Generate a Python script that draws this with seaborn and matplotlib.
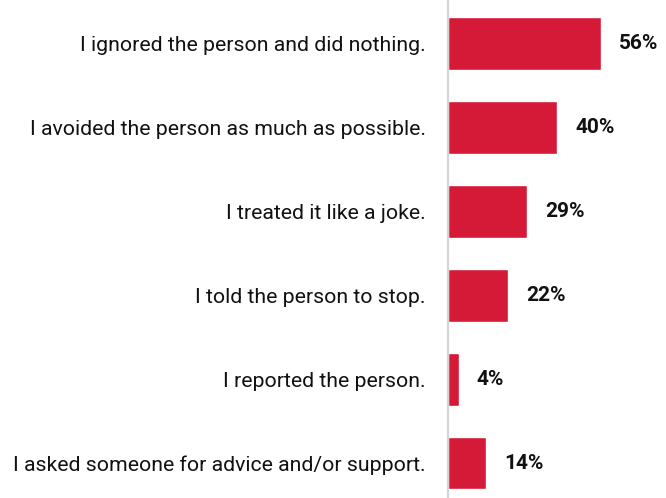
import matplotlib
matplotlib.use("Agg")
import matplotlib.pyplot as plt
import seaborn as sns
import pandas as pd

responses = [
    "I ignored the person and did nothing.",
    "I avoided the person as much as possible.",
    "I treated it like a joke.",
    "I told the person to stop.",
    "I reported the person.",
    "I asked someone for advice and/or support.",
]
shares = [56, 40, 29, 22, 4, 14]
value_labels = ["56%", "40%", "29%", "22%", "4%", "14%"]

df = pd.DataFrame({"response": responses, "share": shares})

sns.set_theme(style="white")
plt.rcParams["font.family"] = ["Roboto", "DejaVu Sans"]

fig = plt.figure(figsize=(6.66, 4.98), dpi=100)
ax = fig.add_axes([448 / 666, 0, 218 / 666, 1])

sns.barplot(data=df, x="share", y="response", orient="h", color="#D51A38",
            width=0.63, saturation=1, ax=ax)

ax.set_xlim(0, 80)
ax.set_ylim(5.417, -0.518)
ax.set_xlabel("")
ax.set_ylabel("")
ax.set_xticks([])
ax.tick_params(axis="y", length=0, pad=16, labelsize=15.3, labelcolor="#111111")

for side in ("top", "right", "bottom"):
    ax.spines[side].set_visible(False)
ax.spines["left"].set_color("#D3D3D3")
ax.spines["left"].set_linewidth(1.6)

for i, (v, lab) in enumerate(zip(shares, value_labels)):
    ax.annotate(lab, xy=(v, i), xytext=(13, 0), textcoords="offset points",
                ha="left", va="center", fontsize=15, fontweight="bold",
                color="#111111")

fig.savefig("out.png", dpi=100)
